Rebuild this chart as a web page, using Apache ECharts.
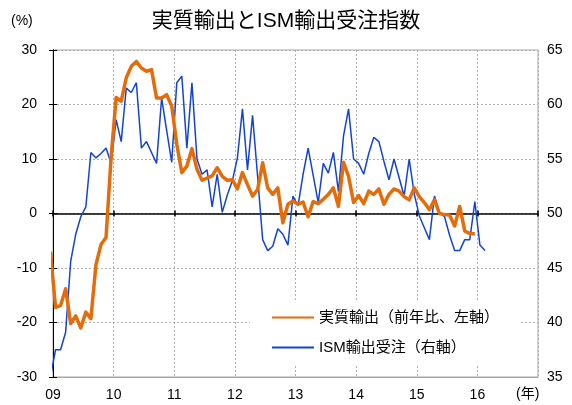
<!DOCTYPE html>
<html>
<head>
<meta charset="utf-8">
<script src="https://cdn.jsdelivr.net/npm/echarts@6/dist/echarts.min.js"></script>
<style>
html,body{margin:0;padding:0;background:#fff;}
#chart{width:572px;height:405px;}
</style>
</head>
<body>
<div id="chart"></div>
<script>
// Monthly data, first entry = 2008-12 (partly outside the plot, clipped at left edge)
const startYear = 2008, startMonth = 12;
const yearLabels = ['09','10','11','12','13','14','15','16'];

// 実質輸出（前年比、%）2008-12 .. 2015-12
const realExports = [
  -7.0,
  -17.2, -16.9, -13.8, -20.2, -18.8, -21.0, -18.1, -19.3, -9.4, -5.7, -4.4, 10.3,
  21.3, 20.6, 24.9, 27.0, 27.9, 26.7, 26.1, 26.4, 21.2, 21.2, 21.8, 19.7,
  12.7, 7.5, 8.7, 11.9, 8.1, 6.1, 6.5, 6.9, 8.4, 6.8, 6.1, 6.2,
  4.5, 7.5, 5.3, 3.2, 4.4, 9.3, 4.7, 3.5, 4.7, -1.7, 1.7, 2.3,
  1.7, 2.1, -0.6, 2.2, 1.8, 2.6, 3.5, 4.7, 1.3, 9.4, 6.8, 2.0,
  3.3, 1.8, 4.1, 3.5, 4.5, 1.7, 3.5, 4.5, 4.1, 3.1, 2.5, 4.7,
  3.1, 2.0, 0.7, 2.5, 0.0, -0.2, -0.3, -2.3, 1.3, -3.2, -3.7, -3.7
];

// ISM輸出受注指数 2008-12 .. 2016-02
const ismExportOrders = [
  35.0,
  37.5, 37.5, 39.1, 45.6, 48.1, 49.7, 50.6, 55.6, 55.1, 55.5, 56.0, 54.6,
  58.6, 56.6, 61.5, 61.1, 62.0, 56.0, 56.6, 55.6, 54.6, 60.6, 57.6, 54.7,
  62.0, 62.6, 56.0, 62.0, 55.0, 53.6, 54.0, 50.6, 53.6, 50.1, 51.7, 53.0,
  55.1, 59.6, 54.0, 59.0, 53.4, 47.6, 46.6, 47.0, 48.6, 48.1, 47.1, 51.6,
  50.7, 53.6, 56.0, 53.5, 51.0, 54.6, 53.7, 55.6, 52.0, 57.1, 59.6, 55.0,
  54.6, 53.6, 55.5, 57.0, 56.6, 54.8, 53.1, 55.0, 53.3, 51.6, 55.0, 51.8,
  49.8, 48.7, 47.6, 51.6, 50.1, 49.7, 48.0, 46.6, 46.6, 47.6, 47.6, 51.1,
  47.1, 46.6
];

const seriesNames = ['実質輸出（前年比、左軸）', 'ISM輸出受注（右軸）'];

// x position: months since 2009-01, centred in each month band
const offset = (startYear - 2009) * 12 + (startMonth - 1);
function toPoints(arr) {
  return arr.map((v, i) => [offset + i + 0.5, v]);
}

const FONT = "'Liberation Sans', 'Noto Sans CJK JP', sans-serif";
const chart = echarts.init(document.getElementById('chart'), null, {renderer: 'canvas'});

const xBase = {
  type: 'value', min: 0, max: 96, interval: 12, position: 'bottom', gridIndex: 0
};

chart.setOption({
  animation: false,
  backgroundColor: '#fff',
  textStyle: {fontFamily: FONT},
  title: {
    text: '実質輸出とISM輸出受注指数',
    left: 'center', top: 6,
    textStyle: {fontSize: 21, fontWeight: 'normal', color: '#000', fontFamily: FONT}
  },
  grid: {
    left: 53, right: 34, top: 50, bottom: 28,
    show: true, borderColor: '#a6a6a6', borderWidth: 1, backgroundColor: 'transparent'
  },
  graphic: [
    {type: 'text', left: 11, top: 14, style: {text: '(%)', fontSize: 14, fill: '#000', fontFamily: FONT}},
    {type: 'text', left: 516, top: 387, style: {text: '(年)', fontSize: 14, fill: '#000', fontFamily: FONT}}
  ],
  legend: {
    left: 250, top: 301, orient: 'vertical',
    padding: [9, 20, 9, 21],
    itemGap: 15, itemWidth: 42, itemHeight: 16,
    backgroundColor: '#fff',
    itemStyle: {opacity: 0},
    data: seriesNames,
    textStyle: {fontSize: 15, color: '#000', fontFamily: FONT}
  },
  xAxis: [
    Object.assign({}, xBase, {
      axisLine: {show: true, onZero: false, lineStyle: {color: '#a6a6a6', width: 1}},
      axisTick: {show: false},
      axisLabel: {
        show: true, fontSize: 14, color: '#000', margin: 11,
        formatter: v => yearLabels[v / 12] || ''
      },
      splitLine: {show: true, lineStyle: {color: '#b0b0b0', type: [2, 2], width: 1}}
    }),
    Object.assign({}, xBase, {
      axisLine: {show: true, onZero: true, onZeroAxisIndex: 0, lineStyle: {color: '#000', width: 1.5}},
      axisTick: {show: true, inside: false, length: 3, lineStyle: {color: '#000', width: 1.5}},
      axisLabel: {show: false}, splitLine: {show: false}
    }),
    Object.assign({}, xBase, {
      axisLine: {show: false, onZero: true, onZeroAxisIndex: 0},
      axisTick: {show: true, inside: true, length: 3, lineStyle: {color: '#000', width: 1.5}},
      axisLabel: {show: false}, splitLine: {show: false}
    })
  ],
  yAxis: [
    {
      type: 'value', min: -30, max: 30, interval: 10, position: 'left',
      axisLine: {show: true, lineStyle: {color: '#000', width: 1}},
      axisTick: {show: true, length: 4, lineStyle: {color: '#000'}},
      axisLabel: {fontSize: 14, color: '#000', margin: 16},
      splitLine: {show: true, lineStyle: {color: '#b0b0b0', type: [2, 2], width: 1}}
    },
    {
      type: 'value', min: 35, max: 65, interval: 5, position: 'right',
      axisLine: {show: true, lineStyle: {color: '#000', width: 1}},
      axisTick: {show: true, length: 4, lineStyle: {color: '#000'}},
      axisLabel: {fontSize: 14, color: '#000', margin: 9},
      splitLine: {show: false}
    }
  ],
  series: [
    {
      name: seriesNames[1], type: 'line', xAxisIndex: 0, yAxisIndex: 1,
      data: toPoints(ismExportOrders), symbol: 'none', clip: true,
      lineStyle: {color: '#1443D4', width: 1.5}, itemStyle: {color: '#1443D4'}, z: 3
    },
    {
      name: seriesNames[0], type: 'line', xAxisIndex: 0, yAxisIndex: 0,
      data: toPoints(realExports), symbol: 'none', clip: true,
      lineStyle: {color: '#E46C0A', width: 3.5, join: 'round'}, itemStyle: {color: '#E46C0A'}, z: 4
    }
  ]
});
</script>
</body>
</html>
